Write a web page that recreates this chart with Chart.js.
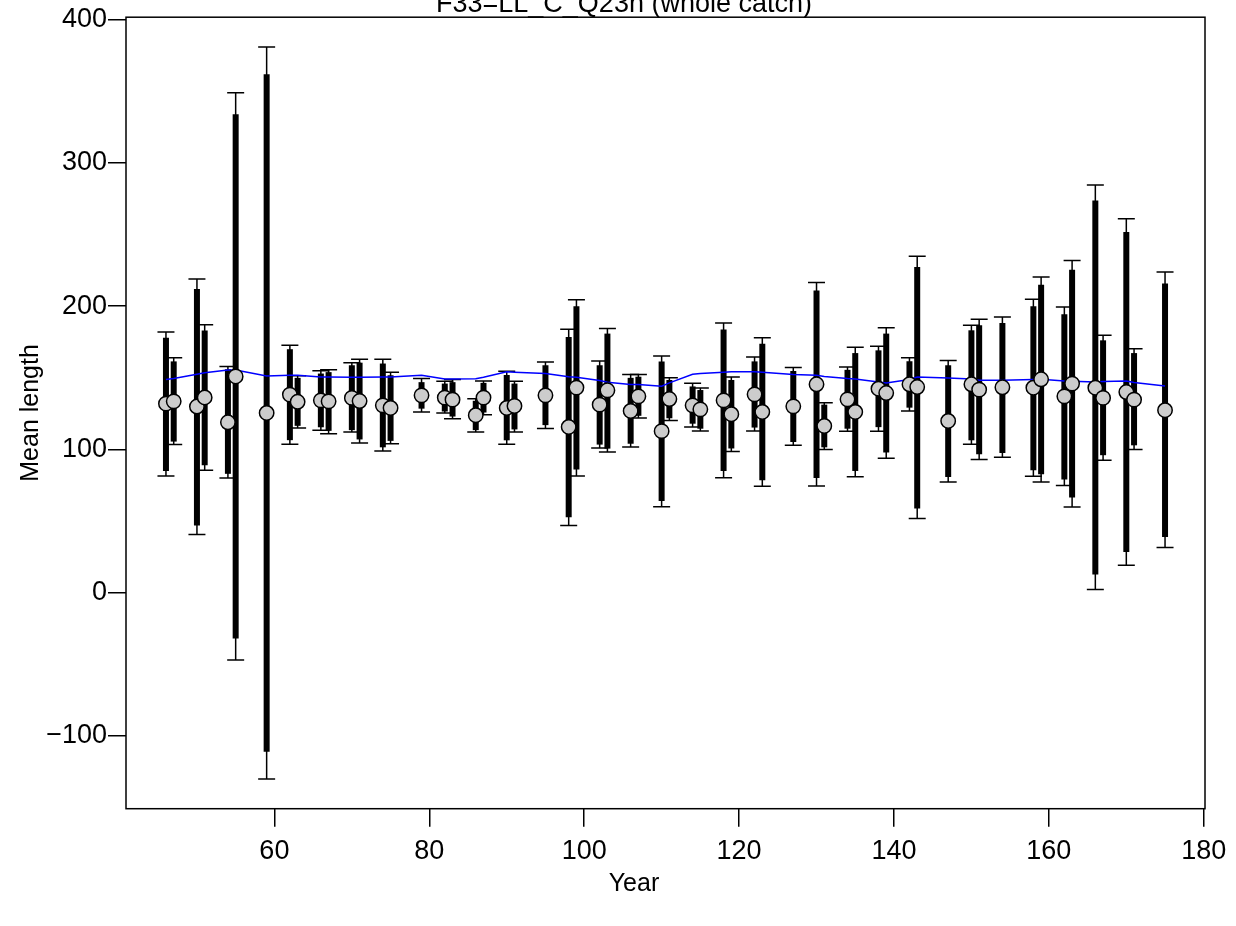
<!DOCTYPE html>
<html>
<head>
<meta charset="utf-8">
<script src="https://cdn.jsdelivr.net/npm/chart.js@4.4.1/dist/chart.umd.min.js"></script>
<style>
  html, body { margin: 0; padding: 0; background: #fff; }
  canvas { display: block; }
</style>
</head>
<body>
<canvas id="lenChart" width="1236" height="926"></canvas>
<script>
// Mean length index fit - F33=LL_C_Q23n

const years = [46, 47, 50, 51, 54, 55, 59, 62, 63, 66, 67, 70, 71, 74, 75, 79, 82, 83, 86, 87,
    90, 91, 95, 98, 99, 102, 103, 106, 107, 110, 111, 114, 115, 118, 119, 122, 123, 127, 130, 131,
    134, 135, 138, 139, 142, 143, 147, 150, 151, 154, 158, 159, 162, 163, 166, 167, 170, 171, 175];

const obsMean = [132, 133.6, 130, 136.3, 119, 151, 125.5, 138.3, 133.3, 134.3, 133.6, 136, 133.8, 130.8, 129, 137.8, 136.2, 134.8, 123.9, 136.2,
    129, 130.4, 137.8, 115.7, 143.2, 131.3, 141.3, 126.9, 137.1, 112.8, 135.2, 130.8, 128, 134.3, 124.6, 138.5, 126.2, 130.1, 145.5, 116.4,
    135, 126.2, 142.4, 139.4, 145.5, 143.6, 119.9, 145.5, 141.8, 143.4, 143.1, 149, 137.1, 146, 143.1, 136, 140.1, 134.8, 127.4];

// thin whisker ends (with caps)
const capLow = [81.5, 103.4, 40.6, 85.5, 80, -47, -130, 103.6, 115, 113.4, 111, 112.2, 104.5, 99, 104, 126.2, 125.5, 121.5, 112.2, 124.3,
    103.6, 112.2, 114.6, 47, 81.5, 101, 98.3, 101.7, 122, 60, 120.2, 115.7, 112.9, 80.3, 98.6, 112.9, 74.4, 102.9, 74.5, 100,
    112.7, 81, 112.8, 93.8, 126.9, 51.8, 77.3, 103.6, 93, 94.5, 81.3, 77.3, 74.8, 59.9, 2.2, 92.5, 19.2, 99.9, 31.5];
const capHigh = [182, 164, 219, 187, 158, 349, 381, 172.7, 151.5, 155, 155.7, 160.6, 163, 163, 153.9, 149.5, 147.6, 148.8, 135.5, 147.8,
    154.6, 147.6, 161, 183.9, 204.6, 161.8, 184.4, 152.3, 152.3, 165.3, 150, 146.2, 143, 188.3, 150.6, 164.6, 178, 157.2, 216.5, 132.7,
    157.6, 171.3, 172, 185, 164.1, 234.9, 162.2, 186.7, 190.9, 192.5, 204.8, 220.4, 199.4, 232, 284.6, 179.7, 261.1, 170.4, 223.9];

// thick bar ends
const barLow = [85, 105.5, 47, 89, 83, -32, -111, 106.5, 116.5, 115.5, 113, 113.5, 107, 101.5, 106, 128.5, 126.5, 123, 113.5, 125.8,
    106.4, 114, 117, 52.7, 86, 103.4, 100.6, 104, 123.5, 64, 121.8, 118, 114.5, 85, 100.7, 115.3, 78.5, 105.2, 80, 101.5,
    114.5, 85, 115.6, 97.9, 129.2, 58.8, 80.8, 106.4, 96.7, 97.6, 85.5, 82.7, 79, 66.4, 12.7, 96, 28.5, 102.9, 38.9];
const barHigh = [178, 161.5, 212, 183, 156, 334, 362, 170, 150, 153, 154, 158.8, 160.6, 160, 151.8, 147, 146, 147, 134, 146.5,
    152, 146, 158.8, 178.5, 200, 158.8, 180.9, 150, 150.8, 161.5, 148.5, 144, 141.5, 183.7, 148.5, 161.5, 173.9, 154.8, 211, 131.3,
    155.6, 167.3, 169.2, 180.9, 161.6, 227.4, 158.8, 183.2, 186.7, 188.3, 200, 215, 194.4, 225.5, 273.9, 176.2, 251.8, 167.3, 215.8];

// expected (model fit)
const expMean = [148.8, 149.5, 152.5, 153.5, 155.5, 155.5, 151.3, 151.8, 151.8, 150.6, 150.6, 150.4, 150.5, 150.6, 150.6, 151.8, 149.2, 149.2, 149.4, 150.5,
    154.2, 154, 153, 150.8, 150.4, 148.2, 147, 145.3, 145.3, 144.2, 146.5, 152.5, 153, 153.9, 154.2, 154.2, 153.9, 152.3, 151.8, 151,
    149.5, 149.2, 147.1, 146.4, 148.8, 150.6, 149.9, 149.2, 148.3, 148.4, 148.8, 149, 147.8, 147.6, 147.1, 147.5, 147.8, 146.8, 144.3];

const xTicks = [60, 80, 100, 120, 140, 160, 180];
const yTicks = [-100, 0, 100, 200, 300, 400];

const FONT = "'Liberation Sans', Arial, sans-serif";

// barras de error (fino con tapas + grueso)
const errorBars = {
    id: 'errorBars',
    beforeDatasetsDraw(chart) {
        const { ctx, scales: { x, y } } = chart;
        ctx.save();
        ctx.strokeStyle = '#000';
        years.forEach((yr, i) => {
            const px = x.getPixelForValue(yr);
            const lo = y.getPixelForValue(capLow[i]);
            const hi = y.getPixelForValue(capHigh[i]);
            ctx.lineWidth = 1.5;
            ctx.lineCap = 'butt';
            ctx.beginPath();
            ctx.moveTo(px, lo); ctx.lineTo(px, hi);
            ctx.moveTo(px - 8.5, lo); ctx.lineTo(px + 8.5, lo);
            ctx.moveTo(px - 8.5, hi); ctx.lineTo(px + 8.5, hi);
            ctx.stroke();
            ctx.lineWidth = 6;
            ctx.beginPath();
            ctx.moveTo(px, y.getPixelForValue(barLow[i]));
            ctx.lineTo(px, y.getPixelForValue(barHigh[i]));
            ctx.stroke();
        });
        ctx.restore();
    }
};

// caja, titulo y etiquetas de ejes
const frame = {
    id: 'frame',
    afterDraw(chart) {
        const { ctx, chartArea: a } = chart;
        ctx.save();
        ctx.strokeStyle = '#000';
        ctx.lineWidth = 1.5;
        ctx.strokeRect(a.left, a.top, a.right - a.left, a.bottom - a.top);
        ctx.fillStyle = '#000';
        ctx.textAlign = 'center';
        ctx.font = '27px ' + FONT;
        ctx.textBaseline = 'alphabetic';
        ctx.fillText('F33=LL_C_Q23n (whole catch)', 624, 12);
        ctx.font = '25px ' + FONT;
        ctx.textBaseline = 'middle';
        ctx.fillText('Year', 634, 884);
        ctx.translate(31, (a.top + a.bottom) / 2);
        ctx.rotate(-Math.PI / 2);
        ctx.fillText('Mean length', 0, 0);
        ctx.restore();
    }
};

const fmtTick = v => String(v).replace('-', '\u2212');

document.addEventListener('DOMContentLoaded', () => {
    const ctx = document.getElementById('lenChart').getContext('2d');
    new Chart(ctx, {
        type: 'scatter',
        data: {
            datasets: [{
                label: 'Observed',
                data: years.map((yr, i) => ({ x: yr, y: obsMean[i] })),
                pointRadius: 7.2,
                pointBorderWidth: 1.5,
                pointBackgroundColor: '#cccccc',
                pointBorderColor: '#000',
                order: 0
            }, {
                label: 'Expected',
                data: years.map((yr, i) => ({ x: yr, y: expMean[i] })),
                showLine: true,
                borderColor: '#0000ff',
                borderWidth: 1.5,
                pointRadius: 0,
                tension: 0,
                order: 1
            }]
        },
        options: {
            responsive: false,
            animation: false,
            devicePixelRatio: 1,
            layout: { padding: { top: 17, right: 31, left: 0, bottom: 0 } },
            plugins: { legend: { display: false }, tooltip: { enabled: false } },
            scales: {
                x: {
                    type: 'linear',
                    min: 40.84,
                    max: 180.16,
                    afterBuildTicks: s => { s.ticks = xTicks.map(v => ({ value: v })); },
                    afterFit: s => { s.height = 117.3; },
                    grid: { drawOnChartArea: false, drawTicks: true, tickLength: 18, color: '#000', lineWidth: 1.5 },
                    border: { display: false },
                    ticks: { color: '#000', padding: 9, maxRotation: 0, callback: fmtTick, font: { size: 27, family: FONT } }
                },
                y: {
                    type: 'linear',
                    min: -150.8,
                    max: 401.8,
                    afterBuildTicks: s => { s.ticks = yTicks.map(v => ({ value: v })); },
                    afterFit: s => { s.width = 126; },
                    grid: { drawOnChartArea: false, drawTicks: true, tickLength: 18, color: '#000', lineWidth: 1.5 },
                    border: { display: false },
                    ticks: { color: '#000', padding: 1, callback: fmtTick, font: { size: 27, family: FONT } }
                }
            }
        },
        plugins: [errorBars, frame]
    });
});
</script>
</body>
</html>
